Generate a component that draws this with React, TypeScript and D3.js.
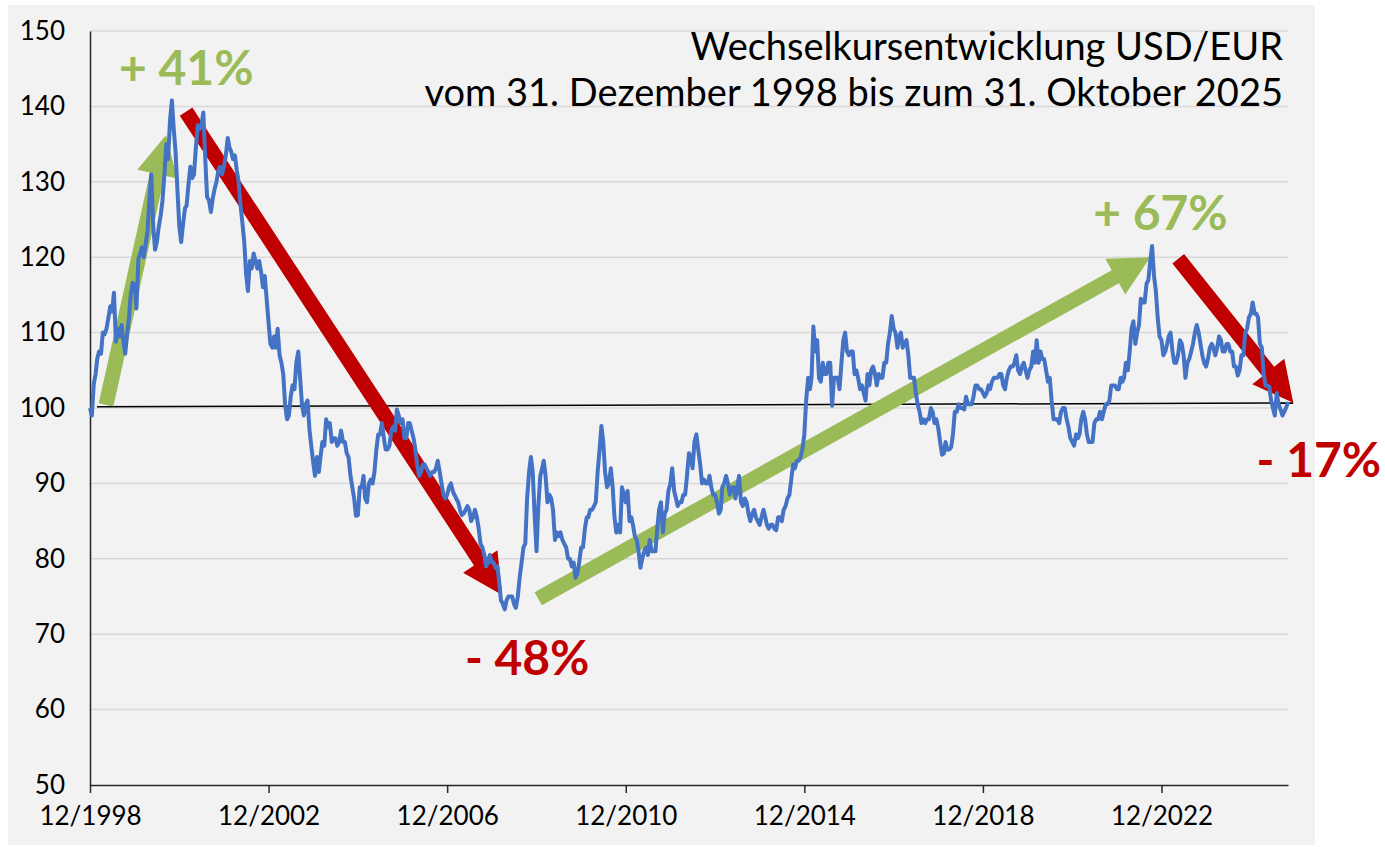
import { useEffect, useRef } from 'react';
import * as d3 from 'd3';

const START = new Date(1998, 11, 31);
const END = new Date(2025, 9, 31);
const START_VALUE = 100;

// USD/EUR index (31.12.1998 = 100), two readings per month: mid-month, month-end
const v1999 = [99.0, 103.2, 104.5, 106.5, 107.5, 107.2, 110.0, 109.8, 110.5, 112.0, 113.5, 112.8, 115.3, 108.8, 110.5, 109.5, 111.0, 109.0, 107.2, 109.8, 112.0, 115.2, 116.6, 116.3];
const v2000 = [113.2, 119.8, 120.5, 121.3, 120.0, 121.8, 123.5, 127.8, 131.0, 124.2, 121.0, 122.0, 124.0, 125.5, 127.5, 131.0, 135.0, 133.0, 138.0, 140.8, 137.0, 134.0, 129.0, 124.0];
const v2001 = [122.0, 124.5, 126.5, 126.8, 129.5, 132.0, 130.5, 131.0, 134.5, 137.5, 137.0, 137.5, 139.2, 133.0, 128.0, 127.5, 126.0, 127.8, 129.0, 130.0, 131.5, 132.0, 131.0, 132.0];
const v2002 = [133.5, 135.8, 134.5, 134.0, 133.0, 133.5, 131.5, 130.0, 127.0, 124.5, 122.0, 117.8, 115.5, 119.5, 118.5, 120.5, 119.5, 118.5, 119.5, 118.0, 116.0, 117.5, 114.5, 111.3];
const v2003 = [108.5, 108.0, 109.5, 108.0, 110.5, 107.0, 106.0, 104.5, 100.5, 98.5, 99.0, 101.5, 103.0, 102.5, 106.0, 107.5, 104.0, 100.5, 99.0, 100.5, 101.0, 97.2, 95.0, 92.8];
const v2004 = [91.0, 93.5, 91.5, 93.5, 95.5, 95.0, 98.5, 97.5, 98.0, 95.5, 96.0, 96.0, 95.0, 95.5, 97.0, 95.5, 95.5, 94.0, 93.5, 91.0, 89.5, 88.0, 85.7, 85.8];
const v2005 = [89.5, 89.5, 91.0, 88.0, 87.5, 90.0, 90.5, 90.0, 91.5, 94.5, 96.5, 96.5, 98.0, 96.0, 94.5, 94.5, 95.0, 97.0, 97.5, 97.0, 99.8, 99.0, 98.0, 98.5];
const v2006 = [96.0, 96.0, 98.0, 98.0, 97.0, 96.0, 94.5, 92.5, 91.0, 91.5, 92.5, 92.5, 92.0, 91.5, 91.0, 91.5, 91.5, 92.0, 93.0, 91.5, 90.0, 88.5, 88.0, 88.5];
const v2007 = [89.5, 90.0, 89.0, 88.5, 88.0, 87.5, 86.5, 85.8, 86.0, 86.5, 87.0, 86.5, 85.0, 85.5, 86.5, 85.5, 84.0, 82.0, 81.5, 80.5, 79.0, 79.5, 80.5, 79.5];
const v2008 = [79.5, 78.8, 79.0, 77.0, 74.5, 74.0, 73.3, 74.5, 75.0, 75.0, 75.0, 74.0, 73.5, 75.0, 77.5, 79.5, 81.5, 82.0, 88.0, 91.5, 93.5, 91.5, 86.0, 81.0];
const v2009 = [87.0, 91.0, 92.0, 93.0, 91.0, 87.5, 88.5, 88.0, 86.5, 82.5, 83.5, 83.0, 83.5, 82.5, 82.0, 81.5, 80.0, 80.0, 79.0, 79.5, 77.5, 78.0, 79.5, 81.5];
const v2010 = [81.5, 84.0, 85.5, 85.5, 86.5, 86.5, 87.0, 87.5, 91.5, 94.5, 97.6, 95.5, 91.5, 89.5, 90.0, 92.0, 89.5, 85.5, 83.5, 84.5, 83.5, 89.5, 88.5, 87.5];
const v2011 = [89.0, 85.0, 85.5, 84.5, 83.0, 82.5, 81.0, 78.8, 80.0, 81.0, 81.5, 80.5, 82.5, 81.0, 81.0, 81.0, 84.0, 86.5, 87.5, 83.5, 86.0, 86.5, 89.0, 90.0];
const v2012 = [92.0, 89.0, 88.0, 87.0, 87.5, 87.5, 88.5, 88.5, 91.0, 94.0, 93.5, 92.0, 95.5, 96.5, 94.5, 92.5, 90.0, 90.5, 90.0, 90.0, 91.0, 89.5, 88.5, 88.5];
const v2013 = [87.5, 86.0, 86.5, 89.5, 90.0, 91.0, 90.0, 88.5, 89.5, 89.5, 88.0, 89.5, 91.0, 87.5, 87.0, 88.0, 87.5, 86.0, 85.0, 86.0, 86.5, 85.5, 85.0, 84.5];
const v2014 = [85.5, 86.5, 85.5, 84.5, 84.0, 84.5, 84.5, 84.0, 83.8, 85.5, 85.5, 85.0, 86.5, 87.0, 88.0, 88.5, 90.5, 92.5, 92.0, 93.0, 93.0, 93.5, 94.5, 96.5];
const v2015 = [101.0, 104.0, 102.5, 104.0, 110.8, 107.5, 109.0, 104.0, 103.5, 106.0, 104.5, 104.5, 106.0, 106.0, 100.3, 104.0, 104.0, 104.0, 102.5, 106.0, 109.0, 110.0, 107.5, 107.0];
const v2016 = [107.5, 107.5, 104.5, 105.0, 104.0, 102.5, 103.0, 102.0, 101.0, 104.5, 103.0, 105.0, 105.5, 104.5, 103.0, 104.5, 104.0, 104.0, 106.0, 106.0, 108.5, 110.0, 112.2, 110.5];
const v2017 = [110.0, 108.0, 109.5, 110.0, 108.0, 108.5, 109.0, 107.0, 104.0, 104.0, 104.0, 102.0, 100.5, 99.5, 98.0, 98.5, 98.0, 98.5, 98.5, 100.0, 99.5, 98.0, 98.5, 97.3];
const v2018 = [95.5, 93.8, 94.0, 95.5, 94.5, 94.5, 94.8, 96.5, 99.5, 99.5, 100.5, 100.0, 100.0, 99.8, 101.5, 100.5, 100.5, 100.5, 101.5, 103.0, 103.0, 102.5, 102.5, 102.0];
const v2019 = [101.5, 102.0, 103.0, 102.5, 103.5, 104.0, 104.0, 104.0, 104.5, 104.5, 103.0, 102.5, 104.0, 105.0, 105.5, 105.5, 106.0, 107.0, 105.0, 104.5, 105.5, 106.0, 105.0, 104.0];
const v2020 = [105.0, 105.5, 107.5, 106.0, 109.0, 106.0, 107.5, 106.5, 106.5, 105.0, 103.5, 104.0, 101.0, 98.5, 98.5, 98.5, 98.0, 99.5, 100.0, 100.0, 98.5, 97.5, 96.0, 95.5];
const v2021 = [95.0, 96.5, 96.0, 96.5, 98.5, 99.5, 98.5, 96.5, 95.5, 95.5, 95.5, 98.0, 98.5, 98.5, 99.5, 98.5, 99.5, 100.5, 100.5, 101.0, 103.0, 103.0, 103.0, 102.5];
const v2022 = [102.5, 104.0, 103.5, 104.0, 106.0, 105.0, 107.5, 110.5, 111.5, 108.5, 110.0, 111.0, 114.5, 114.0, 114.0, 116.5, 117.0, 119.5, 121.5, 117.5, 115.5, 112.0, 109.5, 109.0];
const v2023 = [107.0, 107.5, 108.5, 109.5, 110.0, 107.5, 106.0, 106.0, 107.0, 109.0, 108.5, 107.0, 104.0, 106.0, 106.5, 107.5, 108.5, 110.0, 111.0, 110.0, 108.5, 107.0, 106.0, 105.5];
const v2024 = [106.5, 108.0, 108.5, 108.0, 107.0, 108.0, 109.5, 109.0, 107.5, 107.5, 108.5, 108.5, 107.5, 107.5, 105.5, 105.5, 104.3, 105.0, 107.0, 107.0, 110.0, 110.5, 112.0, 112.5];
const v2025 = [114.0, 112.5, 112.5, 112.0, 108.5, 108.0, 104.5, 103.0, 103.0, 102.8, 101.0, 100.0, 99.0, 102.0, 100.5, 99.8, 99.0, 99.5, 100.0, 100.8];

const years: [number, number[]][] = [
  [1999, v1999], [2000, v2000], [2001, v2001], [2002, v2002], [2003, v2003],
  [2004, v2004], [2005, v2005], [2006, v2006], [2007, v2007], [2008, v2008],
  [2009, v2009], [2010, v2010], [2011, v2011], [2012, v2012], [2013, v2013],
  [2014, v2014], [2015, v2015], [2016, v2016], [2017, v2017], [2018, v2018],
  [2019, v2019], [2020, v2020], [2021, v2021], [2022, v2022], [2023, v2023],
  [2024, v2024], [2025, v2025],
];

const yTicks = [50, 60, 70, 80, 90, 100, 110, 120, 130, 140, 150];
const xTickYears = [1998, 2002, 2006, 2010, 2014, 2018, 2022];

const titleLines = [
  'Wechselkursentwicklung USD/EUR',
  'vom 31. Dezember 1998 bis zum 31. Oktober 2025',
];

const GREEN = '#9bbb59';
const RED = '#c00000';
const BLUE = '#4472c4';

// trend arrows: [date, index] from -> to
const arrows: { from: [Date, number]; to: [Date, number]; color: string }[] = [
  { from: [new Date(1999, 4, 11), 100.4], to: [new Date(2000, 8, 13), 136.2], color: GREEN },
  { from: [new Date(2001, 1, 24), 139.3], to: [new Date(2008, 2, 25), 75.2], color: RED },
  { from: [new Date(2009, 0, 14), 74.7], to: [new Date(2022, 8, 30), 120.0], color: GREEN },
  { from: [new Date(2023, 4, 17), 119.8], to: [new Date(2025, 11, 13), 100.7], color: RED },
];

const changeLabels: { text: string; at: [Date, number]; color: string }[] = [
  { text: '+ 41%', at: [new Date(1999, 7, 25), 142.8], color: GREEN },
  { text: '- 48%', at: [new Date(2007, 4, 25), 64.6], color: RED },
  { text: '+ 67%', at: [new Date(2021, 5, 20), 123.6], color: GREEN },
  { text: '- 17%', at: [new Date(2025, 1, 16), 90.85], color: RED },
];

// parity line drawn across the chart
const parityLine: [Date, number][] = [
  [new Date(1999, 1, 27), 100.17],
  [new Date(2025, 11, 12), 100.66],
];

const FONT = 'Lato, "Open Sans", sans-serif';

function arrowPoints(x1: number, y1: number, x2: number, y2: number) {
  const shaft = 7.5, head = 20.5, headLen = 40;
  const dx = x2 - x1, dy = y2 - y1;
  const len = Math.hypot(dx, dy);
  const ux = dx / len, uy = dy / len;
  const nx = -uy, ny = ux;
  const bx = x2 - ux * headLen, by = y2 - uy * headLen;
  return [
    [x1 + nx * shaft, y1 + ny * shaft],
    [bx + nx * shaft, by + ny * shaft],
    [bx + nx * head, by + ny * head],
    [x2, y2],
    [bx - nx * head, by - ny * head],
    [bx - nx * shaft, by - ny * shaft],
    [x1 - nx * shaft, y1 - ny * shaft],
  ];
}

export default function App() {
  const svgRef = useRef<SVGSVGElement>(null);

  useEffect(() => {
    const width = 1385;
    const height = 847;
    const margin = { left: 90, right: 97, top: 31, bottom: 62 };

    const svg = d3.select(svgRef.current);
    svg.selectAll('*').remove();

    const series: { date: Date; value: number }[] = [{ date: START, value: START_VALUE }];
    years.forEach(([yr, vals]) => {
      vals.forEach((v, i) => {
        const m = Math.floor(i / 2);
        const date = i % 2 === 0 ? new Date(yr, m, 15) : new Date(yr, m + 1, 0);
        series.push({ date, value: v });
      });
    });

    const x = d3.scaleTime().domain([START, END]).range([margin.left, width - margin.right]);
    const y = d3.scaleLinear().domain([50, 150]).range([height - margin.bottom, margin.top]);

    // background panel
    svg.append('rect')
      .attr('x', 8).attr('y', 5)
      .attr('width', 1307).attr('height', 840)
      .attr('fill', '#f2f2f2');

    // gridlines
    svg.append('g')
      .selectAll('line')
      .data(yTicks.slice(1))
      .join('line')
      .attr('x1', margin.left)
      .attr('x2', width - margin.right)
      .attr('y1', d => y(d))
      .attr('y2', d => y(d))
      .attr('stroke', '#d9d9d9')
      .attr('stroke-width', 1.5);

    // y axis
    const yAxis = d3.axisLeft(y).tickValues(yTicks).tickSize(0).tickPadding(25).tickFormat(d => String(d));
    const gy = svg.append('g').attr('transform', `translate(${margin.left},0)`).call(yAxis);
    gy.select('.domain').attr('stroke', '#262626').attr('stroke-width', 1.5);
    gy.selectAll('text')
      .attr('font-family', FONT)
      .attr('font-size', 26)
      .attr('fill', '#000');

    // x axis
    const xAxis = d3.axisBottom(x)
      .tickValues(xTickYears.map(yr => new Date(yr, 11, 31)))
      .tickSize(8)
      .tickSizeOuter(0)
      .tickPadding(14)
      .tickFormat(d => `12/${(d as Date).getFullYear()}`);
    const gx = svg.append('g').attr('transform', `translate(0,${height - margin.bottom})`).call(xAxis);
    gx.select('.domain').attr('stroke', '#262626').attr('stroke-width', 1.5);
    gx.selectAll('.tick line').attr('stroke', '#262626').attr('stroke-width', 1.5);
    gx.selectAll('text')
      .attr('font-family', FONT)
      .attr('font-size', 26)
      .attr('fill', '#000');

    // parity line
    svg.append('line')
      .attr('x1', x(parityLine[0][0])).attr('y1', y(parityLine[0][1]))
      .attr('x2', x(parityLine[1][0])).attr('y2', y(parityLine[1][1]))
      .attr('stroke', '#000')
      .attr('stroke-width', 1.5);

    // arrows
    svg.append('g')
      .selectAll('polygon')
      .data(arrows)
      .join('polygon')
      .attr('points', d => arrowPoints(x(d.from[0]), y(d.from[1]), x(d.to[0]), y(d.to[1])).map(p => p.join(',')).join(' '))
      .attr('fill', d => d.color);

    // exchange rate line
    const line = d3.line<{ date: Date; value: number }>()
      .x(d => x(d.date))
      .y(d => y(d.value));
    svg.append('path')
      .datum(series)
      .attr('d', line)
      .attr('fill', 'none')
      .attr('stroke', BLUE)
      .attr('stroke-width', 4)
      .attr('stroke-linejoin', 'round');

    // change labels
    svg.append('g')
      .selectAll('text')
      .data(changeLabels)
      .join('text')
      .attr('x', d => x(d.at[0]))
      .attr('y', d => y(d.at[1]))
      .attr('font-family', FONT)
      .attr('font-weight', 700)
      .attr('font-size', 48)
      .attr('fill', d => d.color)
      .text(d => d.text);

    // title
    svg.append('g')
      .selectAll('text')
      .data(titleLines)
      .join('text')
      .attr('x', 1283)
      .attr('y', (d, i) => 60 + i * 46)
      .attr('text-anchor', 'end')
      .attr('font-family', FONT)
      .attr('font-size', 38)
      .attr('fill', '#000')
      .text(d => d);
  }, []);

  return (
    <svg
      ref={svgRef}
      width={1385}
      height={847}
      style={{ position: 'absolute', left: 0, top: 0, background: '#fff' }}
    />
  );
}
